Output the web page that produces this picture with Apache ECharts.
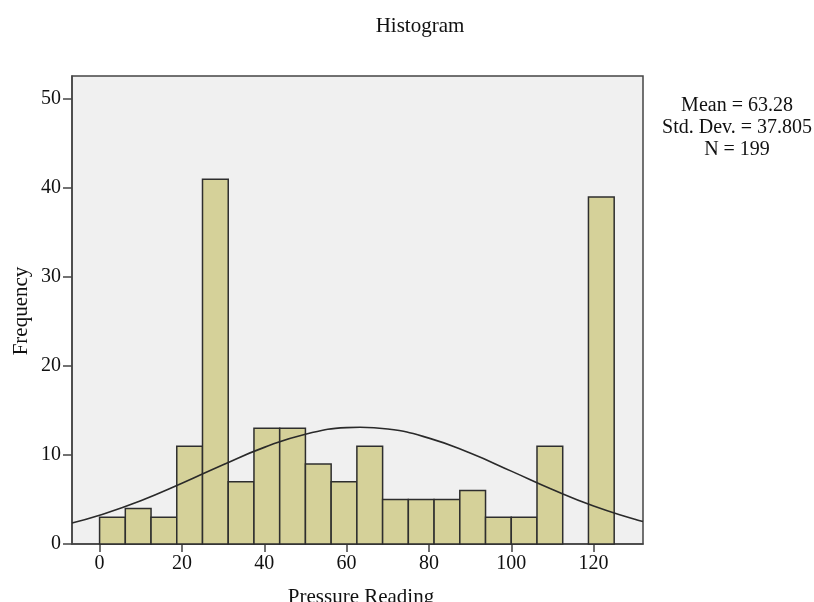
<!DOCTYPE html>
<html>
<head>
<meta charset="utf-8">
<script src="https://cdn.jsdelivr.net/npm/echarts@6/dist/echarts.min.js"></script>
<style>html,body{margin:0;padding:0;background:#fff;}#c{width:814px;height:602px;}</style>
</head>
<body>
<div id="c"></div>
<script>
// Histogram bins (Pressure Reading), bin width 6.25
var binWidth = 6.25;
var binStarts = [0, 6.25, 12.5, 18.75, 25, 31.25, 37.5, 43.75, 50, 56.25, 62.5, 68.75, 75, 81.25, 87.5, 93.75, 100, 106.25, 112.5, 118.75];
var counts    = [3, 4, 3, 11, 41, 7, 13, 13, 9, 7, 11, 5, 5, 5, 6, 3, 3, 11, 0, 39];
// Normal curve
var curveX = [-6.7, 0, 10, 20, 30, 40, 50, 60, 63.28, 70, 80, 90, 100, 110, 120, 130, 132];
var curveY = [2.37, 3.23, 4.86, 6.82, 8.91, 10.86, 12.34, 13.08, 13.12, 12.92, 11.90, 10.22, 8.19, 6.12, 4.26, 2.77, 2.52];
var xTicks = [0, 20, 40, 60, 80, 100, 120];
var yTicks = [0, 10, 20, 30, 40, 50];
var statsLines = ['Mean = 63.28', 'Std. Dev. = 37.805', 'N = 199'];

var binData = [];
for (var i = 0; i < binStarts.length; i++) {
  if (counts[i] > 0) binData.push([binStarts[i], binStarts[i] + binWidth, counts[i]]);
}
var curveData = curveX.map(function (x, i) { return [x, curveY[i]]; });

var serif = '"Liberation Serif", "DejaVu Serif", serif';
var chart = echarts.init(document.getElementById('c'));
chart.setOption({
  animation: false,
  backgroundColor: '#fff',
  title: {
    text: 'Histogram', left: 415, top: 11, textAlign: 'center',
    textStyle: { fontFamily: serif, fontSize: 21, fontWeight: 'normal', color: '#111' }
  },
  grid: {
    left: 72, top: 76, width: 571, height: 468,
    show: true, backgroundColor: '#f0f0f0', borderColor: '#444', borderWidth: 1.5
  },
  xAxis: {
    type: 'value', min: -6.7, max: 132,
    splitLine: { show: false },
    axisLine: { show: true, onZero: false, lineStyle: { color: '#444', width: 1.5 } },
    axisTick: { show: true, length: 8, customValues: xTicks, lineStyle: { color: '#444', width: 1.5 } },
    axisLabel: { customValues: xTicks, margin: 10, fontFamily: serif, fontSize: 20, color: '#111' }
  },
  yAxis: {
    type: 'value', min: 0, max: 52.6,
    splitLine: { show: false },
    axisLine: { show: true, onZero: false, lineStyle: { color: '#444', width: 1.5 } },
    axisTick: { show: true, length: 9, customValues: yTicks, lineStyle: { color: '#444', width: 1.5 } },
    axisLabel: { customValues: yTicks, margin: 11, fontFamily: serif, fontSize: 20, color: '#111' }
  },
  graphic: [
    {
      type: 'text', x: 737, y: 95,
      style: {
        text: statsLines.join('\n'), textAlign: 'center', textVerticalAlign: 'top', lineHeight: 21.7,
        font: '20px ' + serif, fill: '#111'
      }
    },
    {
      type: 'text', x: 361, y: 587,
      style: { text: 'Pressure Reading', textAlign: 'center', textVerticalAlign: 'top', font: '21px ' + serif, fill: '#111' }
    },
    {
      type: 'text', x: 21, y: 311, rotation: Math.PI / 2,
      style: { text: 'Frequency', textAlign: 'center', textVerticalAlign: 'middle', font: '21px ' + serif, fill: '#111' }
    }
  ],
  series: [
    {
      type: 'custom',
      data: binData,
      encode: { x: [0, 1], y: 2 },
      renderItem: function (params, api) {
        var p0 = api.coord([api.value(0), api.value(2)]);
        var p1 = api.coord([api.value(1), 0]);
        return {
          type: 'rect',
          shape: { x: p0[0], y: p0[1], width: p1[0] - p0[0], height: p1[1] - p0[1] },
          style: { fill: '#d5d199', stroke: '#2e2e2e', lineWidth: 1.5 }
        };
      },
      z: 2
    },
    {
      type: 'line',
      data: curveData,
      smooth: true,
      showSymbol: false,
      lineStyle: { color: '#2a2a2a', width: 1.6 },
      z: 3
    }
  ]
});
</script>
</body>
</html>
